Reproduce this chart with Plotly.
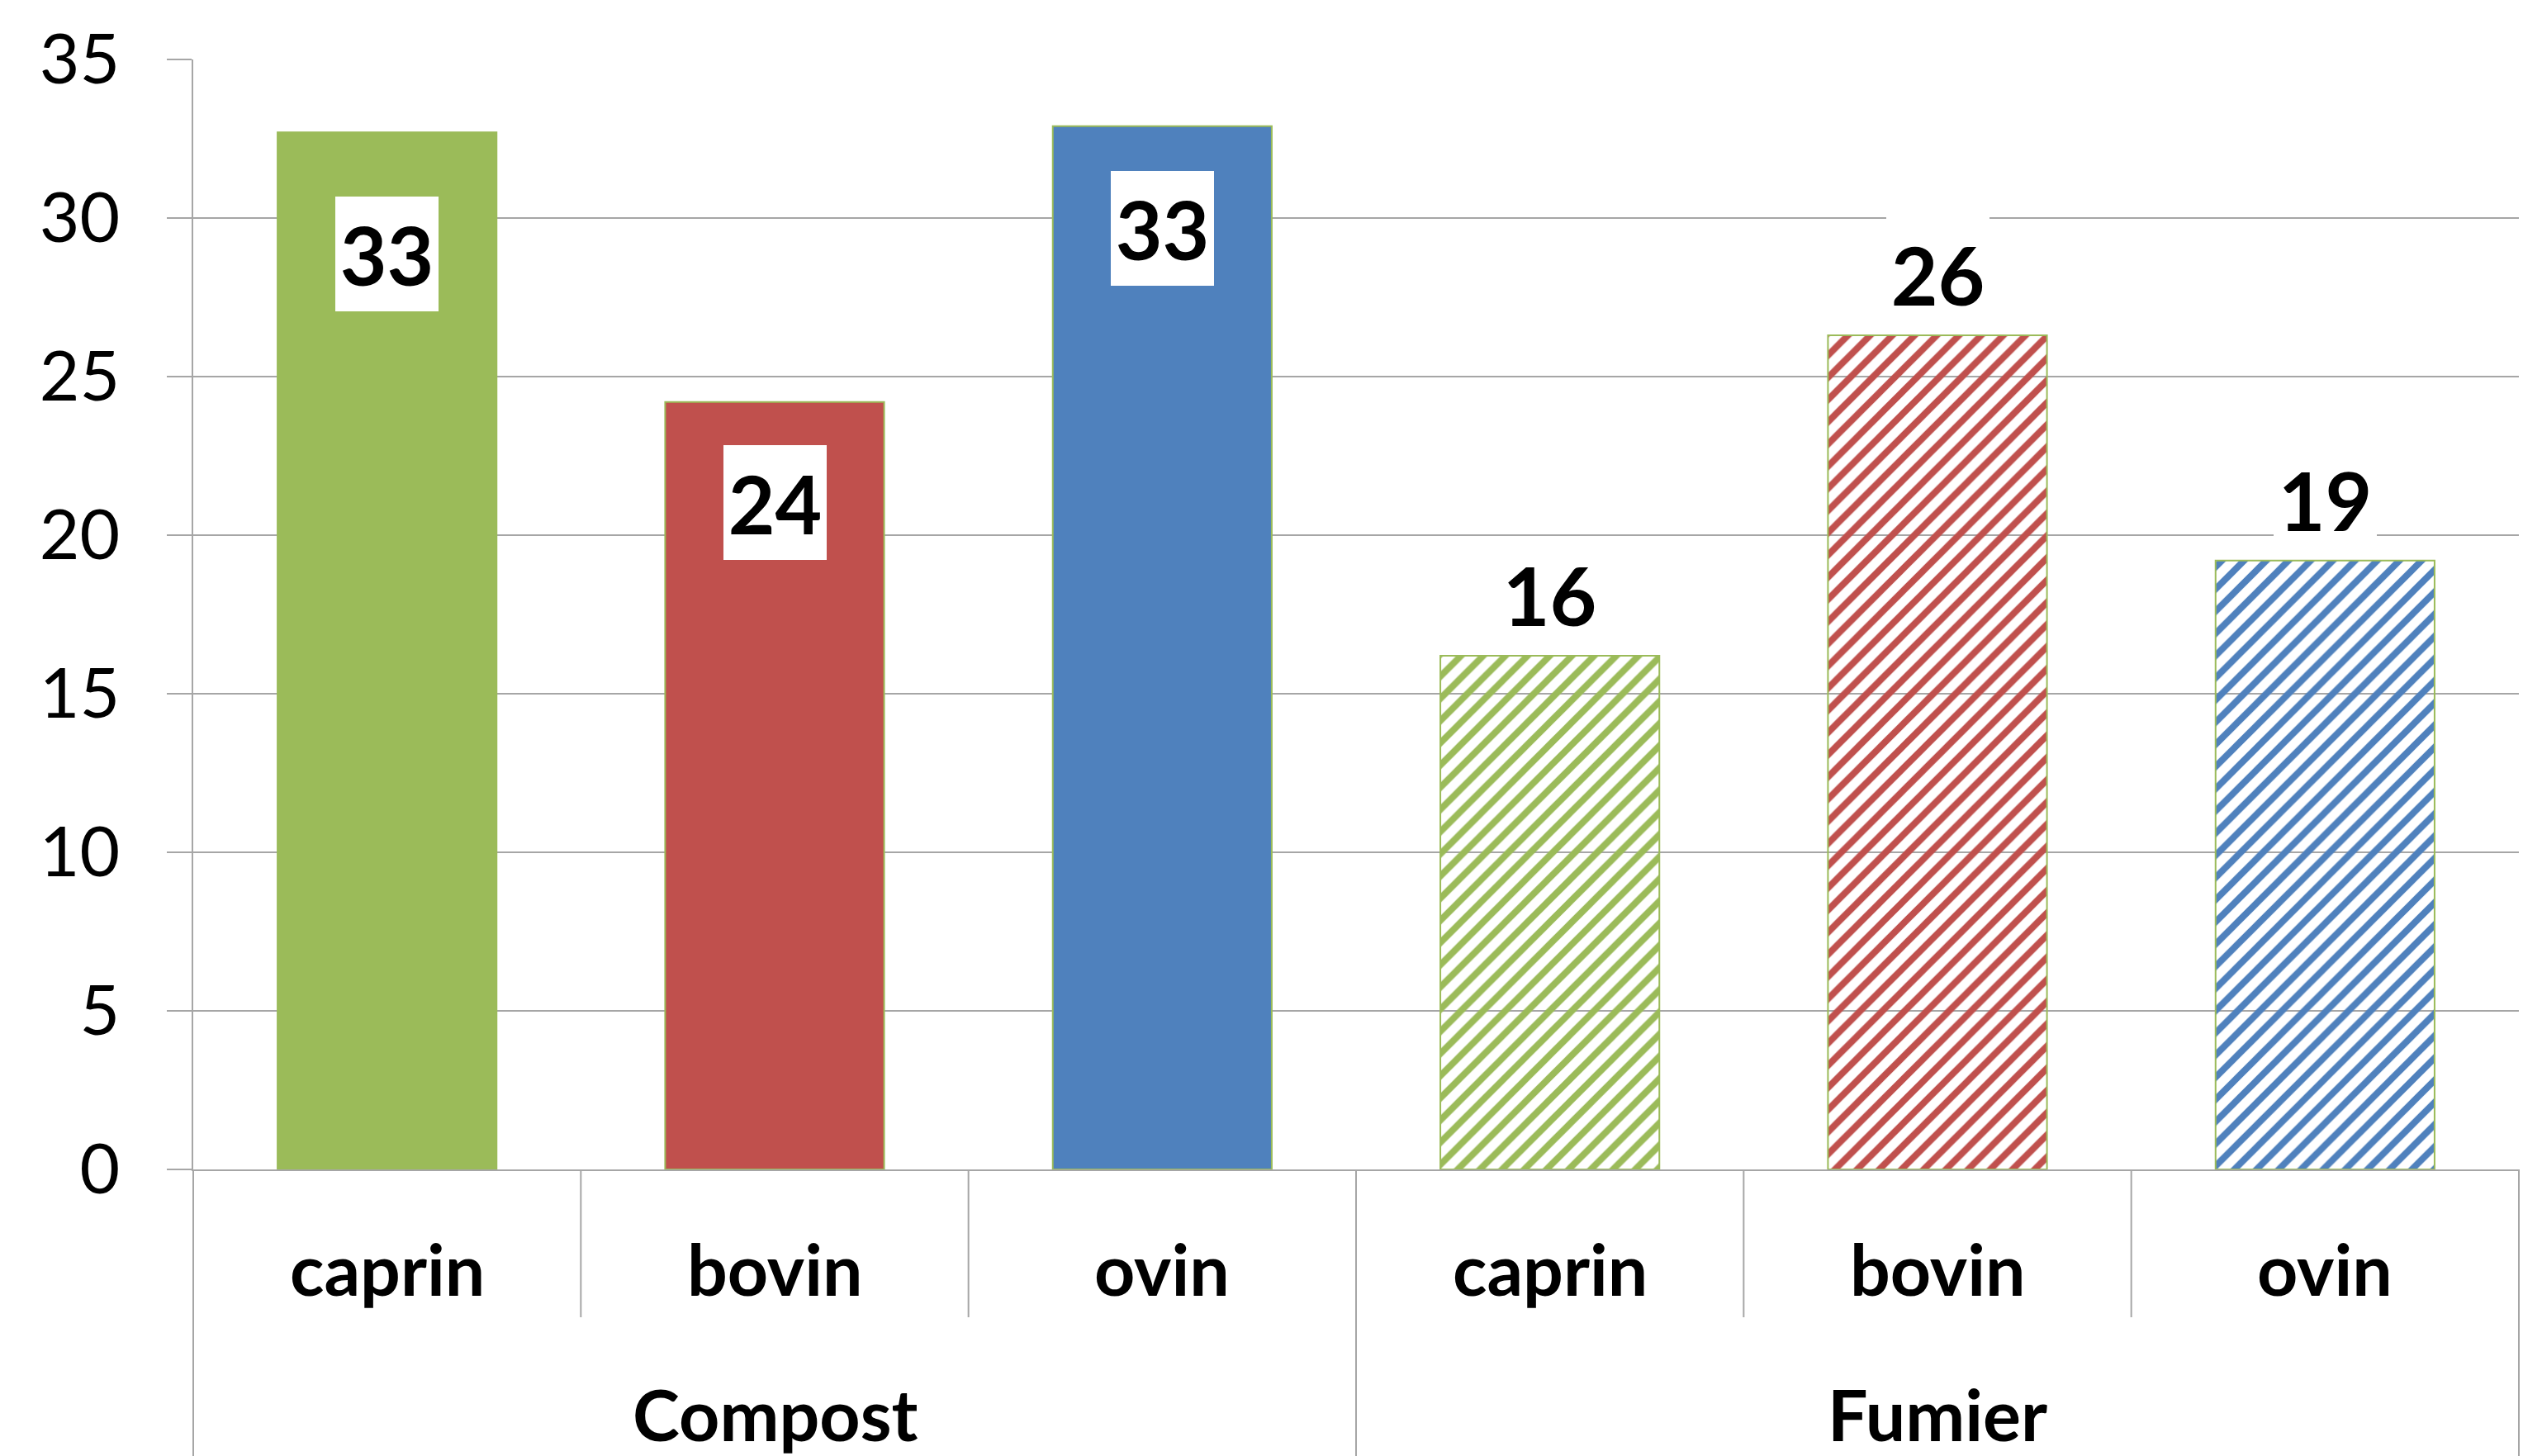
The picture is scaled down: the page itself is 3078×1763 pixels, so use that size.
import plotly.graph_objects as go

# ---- data ----
groups = ["Compost", "Fumier"]
animals = ["caprin", "bovin", "ovin"]
compost_values = [32.7, 24.2, 32.9]
fumier_values = [16.2, 26.3, 19.2]
compost_labels = ["33", "24", "33"]
fumier_labels = ["16", "26", "19"]
y_ticks = [0, 5, 10, 15, 20, 25, 30, 35]

# ---- style ----
animal_colors = {"caprin": "#9BBB59", "bovin": "#C0504D", "ovin": "#4F81BD"}
grid_color = "#A6A6A6"
FONT = "Lato"
compost_label_drop = [78, 52, 54]   # px below bar top (label box top)

x_keys = [f"{g} {a}" for g in groups for a in animals]
values = compost_values + fumier_values
labels = compost_labels + fumier_labels
colors = [animal_colors[a] for g in groups for a in animals]
shapes_p = ["" if g == "Compost" else "/" for g in groups for a in animals]
fg = [animal_colors[a] for g in groups for a in animals]
bg = [animal_colors[a] if g == "Compost" else "white" for g in groups for a in animals]

fig = go.Figure()
fig.add_trace(go.Bar(
    x=x_keys, y=values,
    marker=dict(
        color=colors,
        line=dict(color="#9BBB59", width=2),
        pattern=dict(shape=shapes_p, fgcolor=fg, bgcolor=bg, size=19,
                     solidity=0.42, fillmode="replace"),
    ),
    showlegend=False, hoverinfo="skip",
))

label_font = dict(family=FONT, size=98, color="black", weight="bold")
cat_font = dict(family=FONT, size=86, color="black", weight="bold")

annotations = []
n = len(x_keys)
for i, (k, v, lab) in enumerate(zip(x_keys, values, labels)):
    if i < len(animals):
        annotations.append(dict(x=k, y=v, xref="x", yref="y", text=lab,
                                showarrow=False, yanchor="top",
                                yshift=-compost_label_drop[i],
                                width=125, height=139, bgcolor="white",
                                borderpad=0, borderwidth=0, font=label_font))
    else:
        annotations.append(dict(x=k, y=v, xref="x", yref="y", text=lab,
                                showarrow=False, yanchor="bottom", yshift=5,
                                width=125, height=139, bgcolor="white",
                                borderpad=0, borderwidth=0, font=label_font))

# inner category labels
for i, k in enumerate(x_keys):
    annotations.append(dict(x=k, y=0, xref="x", yref="paper", text=k.split(" ")[1],
                            showarrow=False, xanchor="center", yanchor="middle",
                            yshift=-119, font=cat_font))
# outer group labels (centred on the middle category of each group)
for gi, g in enumerate(groups):
    mid_key = x_keys[gi * len(animals) + len(animals) // 2]
    annotations.append(dict(x=mid_key, y=0, xref="x", yref="paper", text=g,
                            showarrow=False, xanchor="center", yanchor="middle",
                            yshift=-295, font=cat_font))

plot_h = 1416 - 72
shapes = []
# inner separators
for i in range(1, n):
    if i % len(animals) == 0:
        continue
    shapes.append(dict(type="line", xref="paper", yref="paper", x0=i / n, x1=i / n,
                       y0=0, y1=-179 / plot_h, line=dict(color=grid_color, width=2)))
# outer separators (incl. edges)
for gi in range(len(groups) + 1):
    xp = gi / len(groups)
    shapes.append(dict(type="line", xref="paper", yref="paper", x0=xp, x1=xp,
                       y0=0, y1=-347 / plot_h, line=dict(color=grid_color, width=2)))

fig.update_layout(
    width=3078, height=1763,
    margin=dict(l=234, r=28, t=72, b=347, autoexpand=False),
    paper_bgcolor="white", plot_bgcolor="white",
    bargap=0.435,
    annotations=annotations, shapes=shapes,
    xaxis=dict(type="category", showticklabels=False, ticks="", showgrid=False,
               showline=True, linecolor=grid_color, linewidth=2, zeroline=False,
               range=[-0.5, n - 0.5]),
    yaxis=dict(range=[0, 35], tickvals=y_ticks, ticks="outside", ticklen=30,
               tickcolor=grid_color, tickwidth=2, showgrid=True, gridcolor=grid_color,
               gridwidth=2, showline=True, linecolor=grid_color, linewidth=2,
               zeroline=False, ticklabelstandoff=40,
               tickfont=dict(family=FONT, size=84, color="black")),
)

fig.write_html("out.html")
